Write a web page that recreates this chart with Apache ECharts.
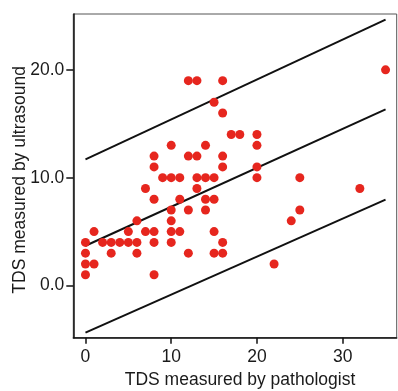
<!DOCTYPE html>
<html>
<head>
<meta charset="utf-8">
<script src="https://cdn.jsdelivr.net/npm/echarts@6/dist/echarts.min.js"></script>
<style>
  html, body { margin: 0; padding: 0; background: #fff; }
  #chart { width: 398px; height: 391px; }
</style>
</head>
<body>
<div id="chart"></div>
<script>
// TDS measured by pathologist (x)
const pathologist = [0,0,0,0,1,1,2,3,3,4,5,5,6,6,6,7,7,8,8,8,8,8,8,9,10,10,10,10,10,10,11,11,11,12,12,12,12,13,13,13,13,14,14,14,14,15,15,15,15,15,16,16,16,16,16,16,17,18,20,20,20,20,22,24,25,25,32,35];
// TDS measured by ultrasound (y)
const ultrasound  = [1,2,3,4,2,5,4,3,4,4,4,5,3,4,6,5,9,1,4,5,8,11,12,10,4,5,6,7,10,13,5,8,10,3,7,12,19,9,10,12,19,7,8,10,13,3,5,8,10,17,3,4,11,12,16,19,14,14,10,11,13,14,2,6,7,10,9,20];

// Line endpoints
const lineX  = [0, 35];
const upperY = [11.7, 24.65];
const fitY   = [3.69, 16.34];
const lowerY = [-4.37, 7.97];

const xTicks = [0, 10, 20, 30];
const yTicks = [0, 10, 20];

const points = pathologist.map((x, i) => [x, ultrasound[i]]);
const toLine = ys => lineX.map((x, i) => [x, ys[i]]);

const font = "'Liberation Sans', Arial, Helvetica, sans-serif";
const chart = echarts.init(document.getElementById('chart'));
const lineStyle = { color: '#111', width: 2 };

chart.setOption({
  animation: false,
  backgroundColor: '#fff',
  grid: {
    left: 73.3, top: 14, width: 323.4, height: 323.7,
    containLabel: false, outerBoundsMode: 'none',
    show: true, borderColor: '#555', borderWidth: 1, backgroundColor: 'transparent'
  },
  xAxis: {
    type: 'value', min: -1.42, max: 36.3,
    name: 'TDS measured by pathologist', nameLocation: 'middle', nameGap: 33, nameMoveOverlap: false,
    nameTextStyle: { fontFamily: font, fontSize: 17.5, color: '#1a1a1a', padding: [0, 0, 0, 10] },
    axisLine: { onZero: false, lineStyle: { color: '#111', width: 1.5 } },
    axisTick: { show: true, customValues: xTicks, length: 6, inside: false, lineStyle: { color: '#111', width: 1.5 } },
    axisLabel: { customValues: xTicks, margin: 10, fontFamily: font, fontSize: 17.5, color: '#1a1a1a' },
    splitLine: { show: false }
  },
  yAxis: {
    type: 'value', min: -4.84, max: 25.18,
    name: 'TDS measured by ultrasound', nameLocation: 'middle', nameGap: 44, nameMoveOverlap: false,
    nameTextStyle: { fontFamily: font, fontSize: 17.5, color: '#1a1a1a', padding: [0, 8, 0, 0] },
    axisLine: { show: true, onZero: false, lineStyle: { color: '#111', width: 1.5 } },
    axisTick: { show: true, customValues: yTicks, length: 7, inside: false, lineStyle: { color: '#111', width: 1.5 } },
    axisLabel: { customValues: yTicks, margin: 9, fontFamily: font, fontSize: 17.5, color: '#1a1a1a',
      formatter: v => Number(v).toFixed(1) },
    splitLine: { show: false }
  },
  series: [
    { type: 'line', data: toLine(upperY), symbol: 'none', lineStyle, z: 3 },
    { type: 'line', data: toLine(fitY), symbol: 'none', lineStyle, z: 3 },
    { type: 'line', data: toLine(lowerY), symbol: 'none', lineStyle, z: 3 },
    { type: 'scatter', data: points, symbolSize: 9, itemStyle: { color: '#e6261e', opacity: 1 }, z: 4 }
  ]
});
</script>
</body>
</html>
